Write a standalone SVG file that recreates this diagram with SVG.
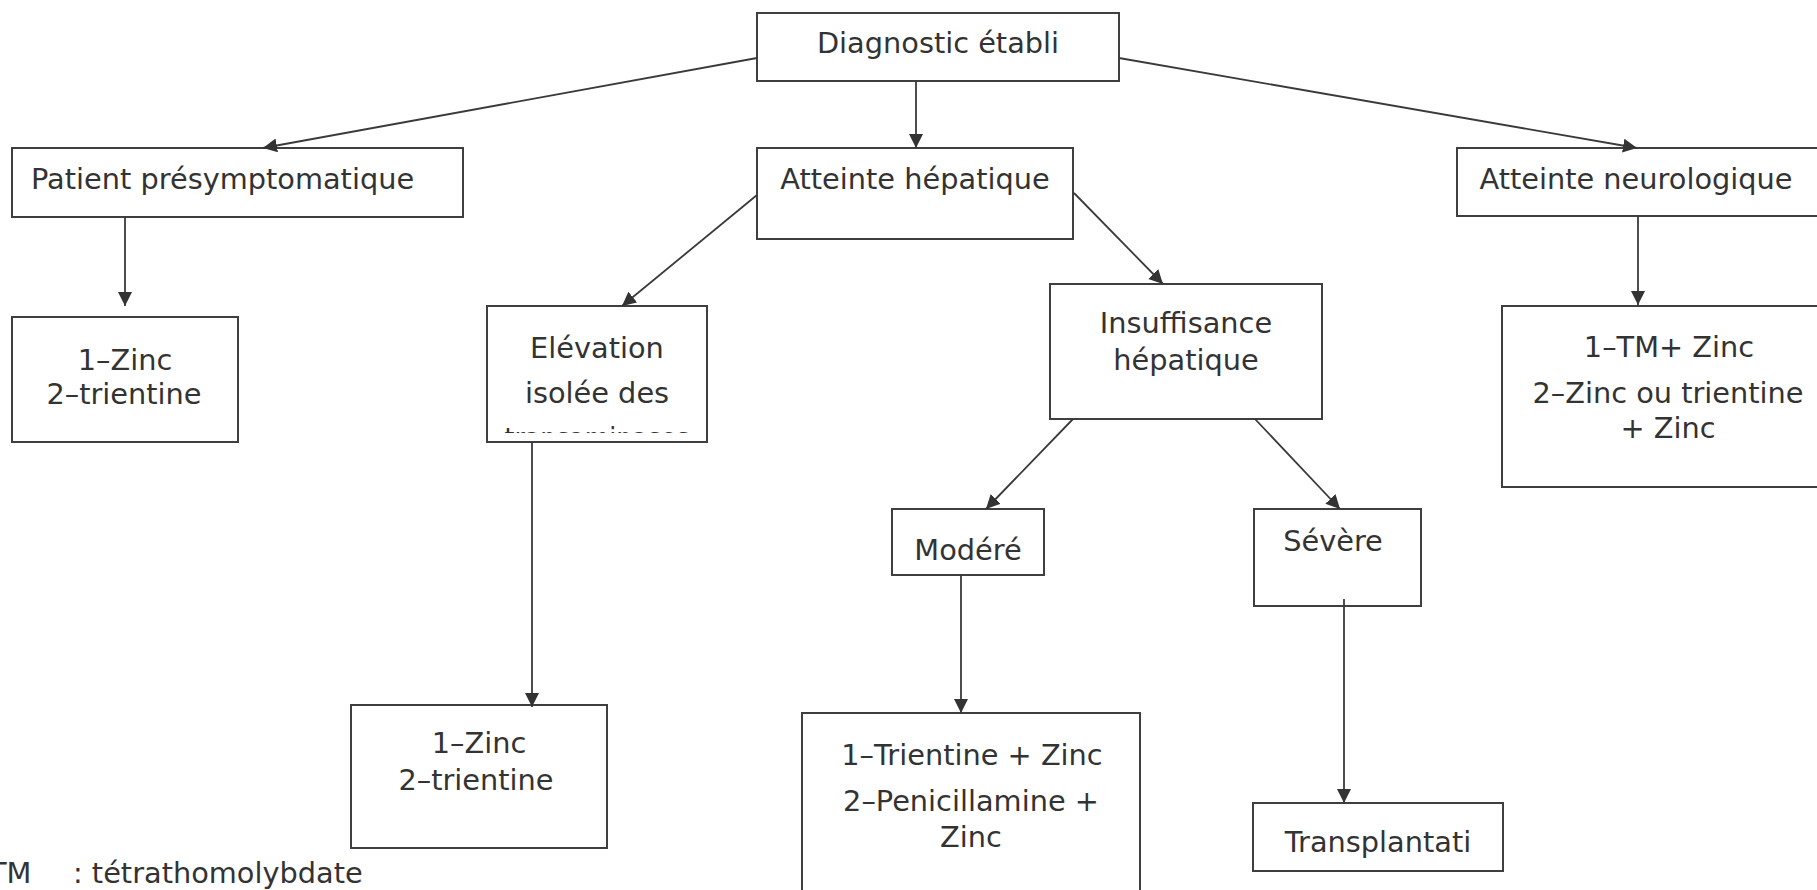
<svg xmlns="http://www.w3.org/2000/svg" width="1817" height="890" viewBox="0 0 1817 890">
<style>
.box{fill:#ffffff;stroke:#3f3f3f;stroke-width:2}
.t{font-family:"DejaVu Sans","Liberation Sans",sans-serif;font-size:28.8px;fill:#333333}
.c{text-anchor:middle}
.ln{fill:none;stroke:#3a3a3a;stroke-width:1.8;marker-end:url(#arr)}
</style>
<defs>
<marker id="arr" markerUnits="userSpaceOnUse" markerWidth="16" markerHeight="16" refX="14" refY="7" orient="auto">
<path d="M0,0 L14,7 L0,14 Z" fill="#333333"/>
</marker>
<clipPath id="elevclip"><rect x="487" y="306" width="220" height="127"/></clipPath>
</defs>
<rect x="0" y="0" width="1817" height="890" fill="#ffffff"/>
<g id="diag">
<rect class="box" x="757" y="13" width="362" height="68"/>
<text class="t c" x="938" y="53">Diagnostic établi</text>
</g>
<g id="patient">
<rect class="box" x="12" y="148" width="451" height="69"/>
<text class="t" x="31" y="189">Patient présymptomatique</text>
</g>
<g id="hepatique">
<rect class="box" x="757" y="148" width="316" height="91"/>
<text class="t c" x="915" y="189">Atteinte hépatique</text>
</g>
<g id="neuro">
<rect class="box" x="1457" y="148" width="364" height="68"/>
<text class="t c" x="1636" y="189">Atteinte neurologique</text>
</g>
<g id="zinc1">
<rect class="box" x="12" y="317" width="226" height="125"/>
<text class="t c" x="125" y="370">1–Zinc</text>
<text class="t c" x="124" y="404">2–trientine</text>
</g>
<g id="elevation">
<rect class="box" x="487" y="306" width="220" height="136"/>
<text class="t c" x="597" y="358">Elévation</text>
<text class="t c" x="597" y="403">isolée des</text>
<text class="t c" x="597" y="448.3" textLength="185" lengthAdjust="spacingAndGlyphs" clip-path="url(#elevclip)">transaminases</text>
</g>
<g id="insuffisance">
<rect class="box" x="1050" y="284" width="272" height="135"/>
<text class="t c" x="1186" y="333">Insuffisance</text>
<text class="t c" x="1186" y="370">hépatique</text>
</g>
<g id="tm">
<rect class="box" x="1502" y="306" width="332" height="181"/>
<text class="t c" x="1669" y="357">1–TM+ Zinc</text>
<text class="t c" x="1668" y="403">2–Zinc ou trientine</text>
<text class="t c" x="1668" y="438">+ Zinc</text>
</g>
<g id="modere">
<rect class="box" x="892" y="509" width="152" height="66"/>
<text class="t c" x="968" y="560">Modéré</text>
</g>
<g id="severe">
<rect class="box" x="1254" y="509" width="167" height="97"/>
<text class="t c" x="1333" y="551">Sévère</text>
</g>
<g id="zinc2">
<rect class="box" x="351" y="705" width="256" height="143"/>
<text class="t c" x="479" y="753">1–Zinc</text>
<text class="t c" x="476" y="790">2–trientine</text>
</g>
<g id="trientine">
<rect class="box" x="802" y="713" width="338" height="190"/>
<text class="t c" x="972" y="765">1–Trientine + Zinc</text>
<text class="t c" x="971" y="811">2–Penicillamine +</text>
<text class="t c" x="971" y="847">Zinc</text>
</g>
<g id="transplantation">
<rect class="box" x="1253" y="803" width="250" height="68"/>
<text class="t c" x="1378" y="852">Transplantati</text>
</g>
<g id="legend">
<text class="t" y="883"><tspan x="-11">TM</tspan><tspan x="73">: tétrathomolybdate</tspan></text>
</g>
<g id="connectors">
<path class="ln" d="M757,58 L263,148"/>
<path class="ln" d="M916,81 L916,148"/>
<path class="ln" d="M1119,58 L1637,148"/>
<path class="ln" d="M125,217 L125,306"/>
<path class="ln" d="M757,195 L622,306"/>
<path class="ln" d="M1074,193 L1163,284"/>
<path class="ln" d="M1638,216 L1638,305"/>
<path class="ln" d="M532,442 L532,707"/>
<path class="ln" d="M1073,419 L986,509"/>
<path class="ln" d="M1255,419 L1340,509"/>
<path class="ln" d="M961,575 L961,713"/>
<path class="ln" d="M1344,599 L1344,803"/>
</g>
</svg>
